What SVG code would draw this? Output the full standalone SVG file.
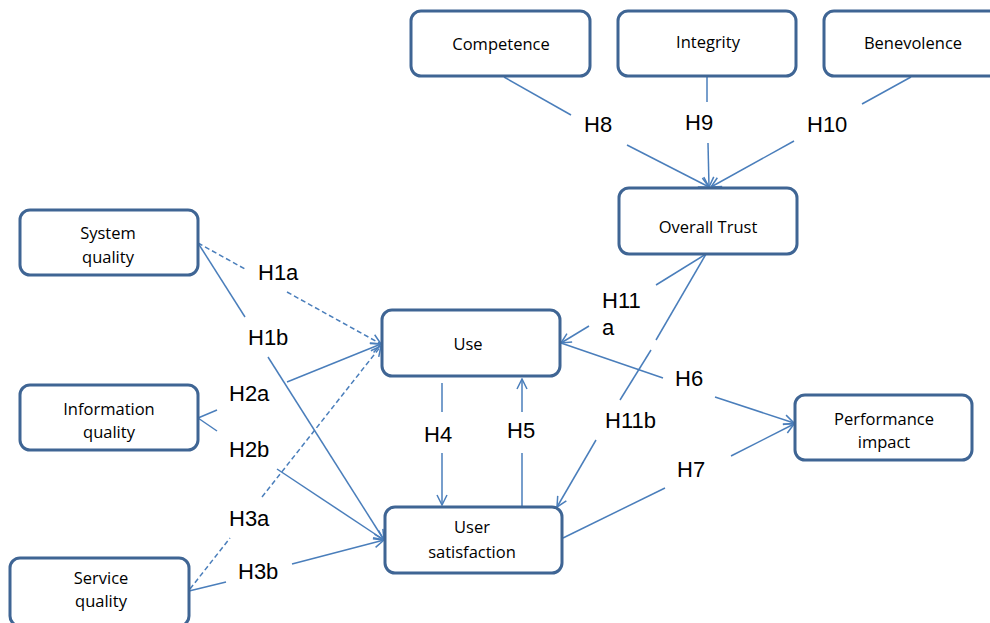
<svg xmlns="http://www.w3.org/2000/svg" width="990" height="623" viewBox="0 0 990 623">
<style>
.box{fill:#fff;stroke:#3F6594;stroke-width:3}
.nt{font-family:"Open Sans","Liberation Sans",Arial,sans-serif;font-size:16.5px;fill:#000;text-anchor:middle}
.lb{font-family:"Liberation Sans",Arial,sans-serif;font-size:22px;fill:#000}
.ln{fill:none;stroke:#4A7EBB;stroke-width:1.5}
.dash{stroke-dasharray:5 3}
</style>
<defs>
<marker id="arr" viewBox="0 0 12 12" refX="11" refY="6" markerWidth="12" markerHeight="12" markerUnits="userSpaceOnUse" orient="auto">
<path d="M1,1 L11,6 L1,11" fill="none" stroke="#4A7EBB" stroke-width="1.5"/>
</marker>
</defs>
<rect width="990" height="623" fill="#fff"/>
<g id="connectors">
<path class="ln dash" d="M198,243 L245,269"/>
<path class="ln dash" d="M287,292 L381,344" marker-end="url(#arr)"/>
<path class="ln" d="M198,243 L245,317"/>
<path class="ln" d="M268,357 L384,540" marker-end="url(#arr)"/>
<path class="ln" d="M198,418 L217,410"/>
<path class="ln" d="M287,382 L381,344" marker-end="url(#arr)"/>
<path class="ln" d="M198,418 L217,431"/>
<path class="ln" d="M277,469 L384,540" marker-end="url(#arr)"/>
<path class="ln dash" d="M190,589 L230,538"/>
<path class="ln dash" d="M262,497 L381,346" marker-end="url(#arr)"/>
<path class="ln" d="M189,591 L226,582"/>
<path class="ln" d="M292,564 L384,540" marker-end="url(#arr)"/>
<path class="ln" d="M442,383 L442,412"/>
<path class="ln" d="M442,453 L442,505" marker-end="url(#arr)"/>
<path class="ln" d="M522,507 L522,453"/>
<path class="ln" d="M522,412 L522,379" marker-end="url(#arr)"/>
<path class="ln" d="M561,343 L663,378"/>
<path class="ln" d="M715,397 L794,423" marker-end="url(#arr)"/>
<path class="ln" d="M563,538 L665,488"/>
<path class="ln" d="M731,456 L794,424" marker-end="url(#arr)"/>
<path class="ln" d="M504,77 L571,115"/>
<path class="ln" d="M627,145 L709,187" marker-end="url(#arr)"/>
<path class="ln" d="M707,77 L707,102"/>
<path class="ln" d="M708,143 L709,187" marker-end="url(#arr)"/>
<path class="ln" d="M911,77 L862,104"/>
<path class="ln" d="M794,141 L711,187" marker-end="url(#arr)"/>
<path class="ln" d="M706,254 L656,285"/>
<path class="ln" d="M589,326 L561,343" marker-end="url(#arr)"/>
<path class="ln" d="M706,254 L656,340"/>
<path class="ln" d="M651,350 L620,400"/>
<path class="ln" d="M596,440 L557,507" marker-end="url(#arr)"/>
</g>
<g id="labels">
<text class="lb" x="258" y="280">H1a</text>
<text class="lb" x="248" y="345">H1b</text>
<text class="lb" x="229" y="401">H2a</text>
<text class="lb" x="229" y="457">H2b</text>
<text class="lb" x="229" y="526">H3a</text>
<text class="lb" x="238" y="579">H3b</text>
<text class="lb" x="584" y="132">H8</text>
<text class="lb" x="685" y="130">H9</text>
<text class="lb" x="807" y="132">H10</text>
<text class="lb" x="602" y="308">H11</text>
<text class="lb" x="602" y="335">a</text>
<text class="lb" x="675" y="386">H6</text>
<text class="lb" x="424" y="442">H4</text>
<text class="lb" x="507" y="438">H5</text>
<text class="lb" x="605" y="428">H11b</text>
<text class="lb" x="677" y="477">H7</text>
</g>
<g id="competence"><rect class="box" x="411" y="11" width="179" height="65" rx="10"/><text class="nt" x="501" y="50">Competence</text></g>
<g id="integrity"><rect class="box" x="618" y="11" width="178" height="65" rx="10"/><text class="nt" x="708" y="48">Integrity</text></g>
<g id="benevolence"><rect class="box" x="824" y="11" width="180" height="65" rx="10"/><text class="nt" x="913" y="49">Benevolence</text></g>
<g id="overall-trust"><rect class="box" x="619" y="188" width="178" height="66" rx="10"/><text class="nt" x="708" y="233">Overall Trust</text></g>
<g id="system-quality"><rect class="box" x="20" y="210" width="178" height="65" rx="10"/><text class="nt" x="108" y="239">System</text><text class="nt" x="108" y="263">quality</text></g>
<g id="use"><rect class="box" x="382" y="310" width="178" height="66" rx="10"/><text class="nt" x="468" y="350">Use</text></g>
<g id="information-quality"><rect class="box" x="20" y="385" width="178" height="65" rx="10"/><text class="nt" x="109" y="415">Information</text><text class="nt" x="109" y="438">quality</text></g>
<g id="user-satisfaction"><rect class="box" x="385" y="507" width="177" height="66" rx="10"/><text class="nt" x="472" y="533">User</text><text class="nt" x="472" y="558">satisfaction</text></g>
<g id="service-quality"><rect class="box" x="10" y="558" width="179" height="68" rx="10"/><text class="nt" x="101" y="584">Service</text><text class="nt" x="101" y="607">quality</text></g>
<g id="performance-impact"><rect class="box" x="795" y="395" width="177" height="65" rx="10"/><text class="nt" x="884" y="425">Performance</text><text class="nt" x="884" y="448">impact</text></g>
</svg>
